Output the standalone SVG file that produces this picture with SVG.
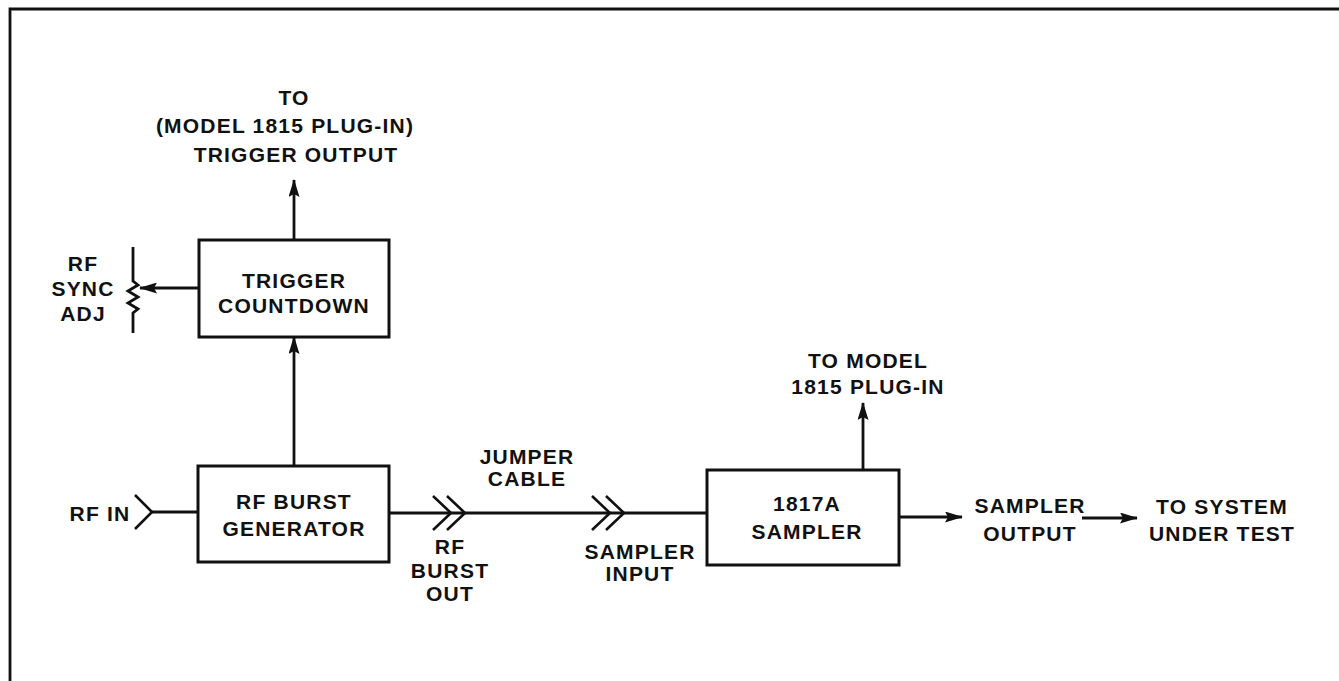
<svg xmlns="http://www.w3.org/2000/svg" width="1339" height="681" viewBox="0 0 1339 681">
<style>
text{font-family:"Liberation Sans",Arial,sans-serif;font-weight:bold;font-size:21px;fill:#111;text-anchor:middle;letter-spacing:1.2px}
.box{fill:none;stroke:#111;stroke-width:3}
.ln{fill:none;stroke:#111;stroke-width:2.8}
.ch{fill:none;stroke:#111;stroke-width:2.6;stroke-linejoin:miter}
</style>
<defs>
<marker id="ah" viewBox="0 0 18 11" refX="17" refY="5.5" markerWidth="18" markerHeight="11" markerUnits="userSpaceOnUse" orient="auto">
<path d="M0,0 L18,5.5 L0,11 L3,5.5 Z" fill="#111"/>
</marker>
</defs>
<rect width="1339" height="681" fill="#fff"/>
<path class="ln" d="M1339,9 L10,9 L10,681"/>

<g id="trigger-countdown">
<rect class="box" x="199" y="240" width="190" height="97"/>
<text x="294" y="288">TRIGGER</text>
<text x="294" y="313">COUNTDOWN</text>
</g>
<g id="rf-burst-generator">
<rect class="box" x="198" y="466" width="191" height="96"/>
<text x="294" y="509">RF BURST</text>
<text x="294" y="536">GENERATOR</text>
</g>
<g id="sampler">
<rect class="box" x="707" y="470" width="192" height="95"/>
<text x="807" y="511">1817A</text>
<text x="807" y="539">SAMPLER</text>
</g>
<g id="rf-sync-adj">
<text x="83" y="271">RF</text>
<text x="83" y="296">SYNC</text>
<text x="83" y="321">ADJ</text>
<path class="ln" d="M133,247 L133,281 L138,285 L128,291 L138,297 L128,303 L138,309 L133,313 L133,333"/>
</g>
<g id="labels">
<text x="294" y="105">TO</text>
<text x="285" y="133">(MODEL 1815 PLUG-IN)</text>
<text x="296" y="162">TRIGGER OUTPUT</text>
<text x="100" y="521">RF IN</text>
<text x="527" y="464">JUMPER</text>
<text x="527" y="486">CABLE</text>
<text x="450" y="554">RF</text>
<text x="450" y="578">BURST</text>
<text x="450" y="601">OUT</text>
<text x="640" y="559">SAMPLER</text>
<text x="640" y="581">INPUT</text>
<text x="868" y="368">TO MODEL</text>
<text x="868" y="394">1815 PLUG-IN</text>
<text x="1030" y="513">SAMPLER</text>
<text x="1030" y="541">OUTPUT</text>
<text x="1222" y="514">TO SYSTEM</text>
<text x="1222" y="541">UNDER TEST</text>
</g>
<g id="connectors">
<path class="ln" d="M294,240 L294,180" marker-end="url(#ah)"/>
<path class="ln" d="M199,288 L140,288" marker-end="url(#ah)"/>
<path class="ln" d="M294,466 L294,337" marker-end="url(#ah)"/>
<path class="ch" d="M135,495 L152,512 L135,529"/>
<path class="ln" d="M152,512 L198,512"/>
<path class="ln" d="M389,513 L707,513"/>
<path class="ch" d="M433,496 L451,513 L433,530 M447,496 L465,513 L447,530"/>
<path class="ch" d="M592,496 L610,513 L592,530 M606,496 L624,513 L606,530"/>
<path class="ln" d="M863,470 L863,403" marker-end="url(#ah)"/>
<path class="ln" d="M899,517 L962,517" marker-end="url(#ah)"/>
<path class="ln" d="M1082,518 L1137,518" marker-end="url(#ah)"/>
</g>
</svg>
